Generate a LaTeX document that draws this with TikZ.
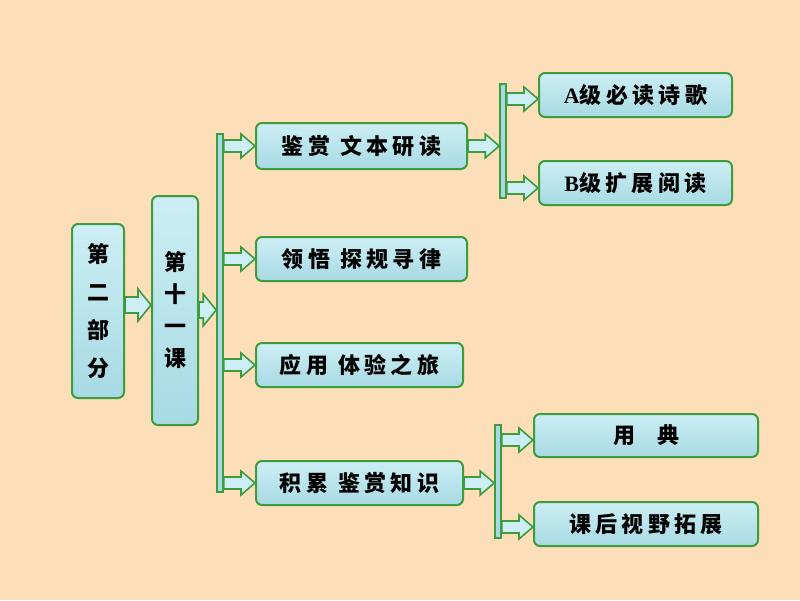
\documentclass[tikz,border=0pt]{standalone}
\usepackage{fontspec}
\setmainfont{Liberation Serif}
\newfontfamily\cjk[LetterSpace=20]{Noto Sans CJK SC}
\usetikzlibrary{calc}
\definecolor{bgpeach}{HTML}{FCDFB8}
\definecolor{boxgreen}{HTML}{3E9C3E}
\definecolor{boxtop}{HTML}{CDEEF4}
\definecolor{boxbot}{HTML}{A7DAE4}
\tikzset{
  box/.style={draw=boxgreen, line width=2pt, rounded corners=6pt,
    top color=boxtop, bottom color=boxbot, inner sep=0pt,
    font=\fontsize{22}{26}\selectfont\bfseries, text=black},
  vbox/.style={box, align=center},
  vbar/.style={draw=boxgreen, line width=1.6pt, fill=boxbot, inner sep=0pt, minimum width=6pt},
  arrowfill/.style={draw=boxgreen, line width=1.6pt, fill=boxtop, line join=miter},
}
% block arrow from #2 to #3 (horizontal, at the y of #2); #1 = shaft half-height, #4 = head length
\newcommand\blk[4][6]{%
  \path[arrowfill] let \p1=(#2), \p2=(#3) in
   (\x1,\y1+#1pt) -- (\x2-#4pt,\y1+#1pt) -- (\x2-#4pt,\y1+2*#1pt) -- (\x2,\y1)
   -- (\x2-#4pt,\y1-2*#1pt) -- (\x2-#4pt,\y1-#1pt) -- (\x1,\y1-#1pt) -- cycle;}
\newcommand\gap{\hspace{10pt}}
\begin{document}
\begin{tikzpicture}[x=1pt,y=-1pt]
\fill[bgpeach] (0,0) rectangle (800,600);
\useasboundingbox (0,0) rectangle (800,600);
% left boxes
\node[vbox, minimum width=52pt, minimum height=174pt,
  font=\fontsize{22}{38}\selectfont\cjk\bfseries] (n1) at (98,311)
  {第\\二\\部\\分};
\node[vbox, minimum width=46pt, minimum height=229pt,
  font=\fontsize{22}{32}\selectfont\cjk\bfseries] (n2) at (175,310.5)
  {第\\十\\一\\课};
\node[vbar, minimum height=358pt] (bar1) at (220,313) {};
% middle boxes
\node[box, minimum width=211pt, minimum height=46pt] (b1) at (361.5,146) {\cjk 鉴赏\gap 文本研读};
\node[box, minimum width=211pt, minimum height=44pt] (b2) at (361.5,259) {\cjk 领悟\gap 探规寻律};
\node[box, minimum width=207pt, minimum height=44pt] (b3) at (359.5,365) {\cjk 应用\gap 体验之旅};
\node[box, minimum width=207pt, minimum height=44pt] (b4) at (359.5,483) {\cjk 积累\gap 鉴赏知识};
% right bars
\node[vbar, minimum height=114pt] (bar2) at (503,141) {};
\node[vbar, minimum height=113pt] (bar3) at (498,481.5) {};
% right boxes
\node[box, minimum width=193pt, minimum height=44pt] (c1) at (635.5,95) {A\cjk 级必读诗歌};
\node[box, minimum width=193pt, minimum height=44pt] (c2) at (635.5,183) {B\cjk 级扩展阅读};
\node[box, minimum width=224pt, minimum height=43pt] (d1) at (646,435.5) {\cjk 用\hspace{22pt}典};
\node[box, minimum width=224pt, minimum height=44pt] (d2) at (646,524) {\cjk 课后视野拓展};
% arrows
\blk[8]{n1.east|-0,305}{n2.west}{13}
\blk[8]{n2.east|-0,310}{bar1.west}{13}
\blk{bar1.east|-b1.west}{b1.west}{14}
\blk{bar1.east|-b2.west}{b2.west}{14}
\blk{bar1.east|-b3.west}{b3.west}{14}
\blk{bar1.east|-b4.west}{b4.west}{14}
\blk{b1.east}{bar2.west}{14}
\blk{b4.east}{bar3.west}{14}
\blk{bar2.east|-0,99}{c1.west}{14}
\blk{bar2.east|-0,188}{c2.west}{14}
\blk{bar3.east|-0,440}{d1.west}{14}
\blk{bar3.east|-0,527}{d2.west}{14}
\end{tikzpicture}
\end{document}
